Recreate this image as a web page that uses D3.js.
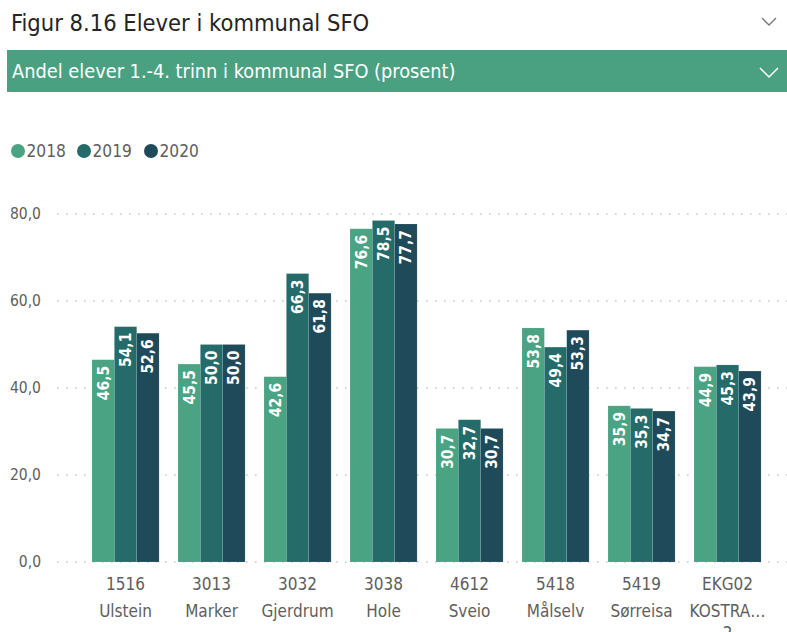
<!DOCTYPE html>
<html>
<head>
<meta charset="utf-8">
<script src="https://cdnjs.cloudflare.com/ajax/libs/d3/7.8.5/d3.min.js"></script>
<style>
  body { margin: 0; background: #fff; }
  svg { display: block; font-family: "DejaVu Sans Condensed", "DejaVu Sans", sans-serif; }
</style>
</head>
<body>
<div id="chart"></div>
<script>
//Data
const kommuner = ['1516 Ulstein', '3013 Marker', '3032 Gjerdrum', '3038 Hole', '4612 Sveio', '5418 Målselv', '5419 Sørreisa', 'EKG02 KOSTRA…'];
const kommuneLines = [['1516', 'Ulstein'], ['3013', 'Marker'], ['3032', 'Gjerdrum'], ['3038', 'Hole'], ['4612', 'Sveio'], ['5418', 'Målselv'], ['5419', 'Sørreisa'], ['EKG02', 'KOSTRA…', '2']];
const years = ['2018', '2019', '2020'];
const values2018 = [46.5, 45.5, 42.6, 76.6, 30.7, 53.8, 35.9, 44.9];
const values2019 = [54.1, 50.0, 66.3, 78.5, 32.7, 49.4, 35.3, 45.3];
const values2020 = [52.6, 50.0, 61.8, 77.7, 30.7, 53.3, 34.7, 43.9];
const yTicks = [0, 20, 40, 60, 80];

//Colores
const COLOR_2018 = '#4aa382',
COLOR_2019 = '#246b69',
COLOR_2020 = '#1f4a5a',
COLOR_HEADER = '#4aa181',
COLOR_TEXT = '#605e5c';

const colors = [COLOR_2018, COLOR_2019, COLOR_2020];
const series = [values2018, values2019, values2020];

const width = 787, height = 632;
const fmt = v => d3.format('.1f')(v).replace('.', ',');

let svg = d3.select('#chart').append('svg')
    .attr('width', width)
    .attr('height', height);

//Título
svg.append('text')
    .attr('x', 11).attr('y', 31)
    .attr('font-size', 23.5)
    .attr('fill', '#252423')
    .text('Figur 8.16 Elever i kommunal SFO');

svg.append('path')
    .attr('d', 'M762,18 L769,25 L776,18')
    .attr('fill', 'none').attr('stroke', '#777').attr('stroke-width', 1.3);

//Barra verde
svg.append('rect')
    .attr('x', 7).attr('y', 50)
    .attr('width', width - 7).attr('height', 42)
    .attr('fill', COLOR_HEADER);

svg.append('text')
    .attr('x', 12).attr('y', 78)
    .attr('font-size', 19.8)
    .attr('fill', '#fff')
    .text('Andel elever 1.-4. trinn i kommunal SFO (prosent)');

svg.append('path')
    .attr('d', 'M760,68 L769,77 L778,68')
    .attr('fill', 'none').attr('stroke', '#fff').attr('stroke-width', 1.5);

//Leyenda
let legendX = [18, 84, 151];
years.forEach(function(y, i) {
    svg.append('circle')
        .attr('cx', legendX[i]).attr('cy', 151).attr('r', 7)
        .attr('fill', colors[i]);
    svg.append('text')
        .attr('x', legendX[i] + 8.5).attr('y', 157)
        .attr('font-size', 17.2)
        .attr('fill', COLOR_TEXT)
        .text(y);
});

//Escalas
let y = d3.scaleLinear()
    .domain([0, 80])
    .range([562, 214]);

let x0 = d3.scaleBand()
    .domain(kommuner)
    .range([81.7, 771.4])
    .paddingInner(0.22)
    .paddingOuter(0.12);

let x1 = d3.scaleBand()
    .domain(years)
    .range([0, x0.bandwidth()]);

//Rejilla
let grid = svg.append('g');
yTicks.forEach(function(t) {
    grid.append('line')
        .attr('x1', 57).attr('x2', width)
        .attr('y1', y(t)).attr('y2', y(t))
        .attr('stroke', '#c8c8c8')
        .attr('stroke-width', 1.6)
        .attr('stroke-dasharray', '1.6,7.4');
});

let yAxis = svg.append('g')
    .attr('transform', 'translate(41,0)')
    .call(d3.axisLeft(y).tickValues(yTicks).tickFormat(fmt).tickSize(0).tickPadding(0));
yAxis.select('.domain').remove();
yAxis.selectAll('text')
    .attr('font-size', 15.5)
    .attr('fill', COLOR_TEXT)
    .attr('font-family', '"DejaVu Sans Condensed", sans-serif');

//Barras
kommuner.forEach(function(k, i) {
    let g = svg.append('g').attr('transform', 'translate(' + x0(k) + ',0)');
    years.forEach(function(yr, j) {
        let v = series[j][i];
        g.append('rect')
            .attr('x', x1(yr))
            .attr('y', y(v))
            .attr('width', x1.bandwidth())
            .attr('height', y(0) - y(v))
            .attr('fill', colors[j])
            .attr('stroke', 'rgba(255,255,255,0.18)')
            .attr('stroke-width', 0.6);
        let cx = x1(yr) + x1.bandwidth() / 2;
        g.append('text')
            .attr('transform', 'translate(' + (cx + 5.5) + ',' + (y(v) + 6) + ') rotate(-90)')
            .attr('text-anchor', 'end')
            .attr('font-size', 15.5)
            .attr('font-weight', 'bold')
            .attr('fill', '#fff')
            .text(fmt(v));
    });
});

//Etiquetas eje X
kommuner.forEach(function(k, i) {
    let cx = x0(k) + x0.bandwidth() / 2;
    let t = svg.append('text')
        .attr('text-anchor', 'middle')
        .attr('font-size', 17)
        .attr('fill', COLOR_TEXT);
    kommuneLines[i].forEach(function(line, l) {
        t.append('tspan')
            .attr('x', cx)
            .attr('y', [590, 617, 639][l])
            .text(line);
    });
});
</script>
</body>
</html>
